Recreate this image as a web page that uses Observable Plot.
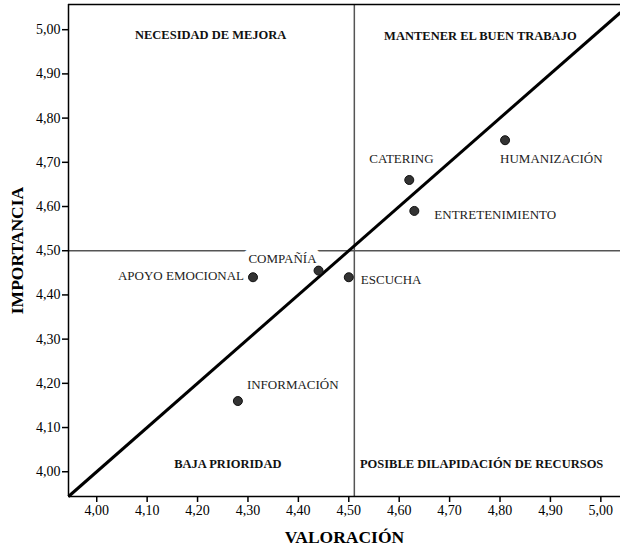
<!DOCTYPE html>
<html><head><meta charset="utf-8">
<script src="https://cdn.jsdelivr.net/npm/d3@7"></script>
<script src="https://cdn.jsdelivr.net/npm/@observablehq/plot@0.6"></script>
<style>body{margin:0;background:#fff}</style>
</head><body><div id="chart"></div>
<script>
const names = ["HUMANIZACIÓN","CATERING","ENTRETENIMIENTO","ESCUCHA","COMPAÑÍA","APOYO EMOCIONAL","INFORMACIÓN"];
const valoracion = [4.81, 4.62, 4.63, 4.50, 4.44, 4.31, 4.28];
const importancia = [4.75, 4.66, 4.59, 4.44, 4.455, 4.44, 4.16];
const xTicks = [4.0,4.1,4.2,4.3,4.4,4.5,4.6,4.7,4.8,4.9,5.0];
const yTicks = [4.0,4.1,4.2,4.3,4.4,4.5,4.6,4.7,4.8,4.9,5.0];
const xDomain = [3.944, 5.039];
const yDomain = [3.944, 5.057];
const refX = 4.511, refY = 4.50;
const quadNames = ["NECESIDAD DE MEJORA","MANTENER EL BUEN TRABAJO","BAJA PRIORIDAD","POSIBLE DILAPIDACIÓN DE RECURSOS"];
const quadX = [4.226, 4.761, 4.260, 4.522];
const quadY = [4.989, 4.986, 4.018, 4.018];

// label placement (style only)
const place = {
  "HUMANIZACIÓN": {dx:-5, dy:19, a:"start", ls:0.4},
  "CATERING": {dx:-40, dy:-21, a:"start", ls:0.4},
  "ENTRETENIMIENTO": {dx:20, dy:4, a:"start", ls:1},
  "ESCUCHA": {dx:12, dy:3, a:"start", ls:0.4},
  "COMPAÑÍA": {dx:-2, dy:-12, a:"end", ls:0.4, halo:true},
  "APOYO EMOCIONAL": {dx:-9, dy:-1, a:"end", ls:0.4},
  "INFORMACIÓN": {dx:9, dy:-16, a:"start", ls:0.4}
};
const quadAnchor = ["middle","middle","middle","start"];
const quadSpacing = [0.8, 0.8, 0.8, 1.4];

const pts = names.map((n,i)=>({name:n, x:valoracion[i], y:importancia[i]}));
const quads = quadNames.map((n,i)=>({name:n, x:quadX[i], y:quadY[i], a:quadAnchor[i], ls:quadSpacing[i]}));
const fmt = d => d.toFixed(2).replace(".", ",");

const labelMarks = pts.map(p => {
  const o = place[p.name];
  return Plot.text([p], {x:"x", y:"y", text:"name", dx:o.dx, dy:o.dy, textAnchor:o.a,
    fontSize:13, fill:"#222", letterSpacing: o.ls + "px",
    stroke: o.halo ? "white" : "none", strokeWidth: o.halo ? 14 : 0});
});
const quadMarks = quads.map(q => Plot.text([q], {x:"x", y:"y", text:"name", fontWeight:"bold",
  fontSize:12.5, fill:"#111", letterSpacing: q.ls + "px", textAnchor:q.a}));

const chart = Plot.plot({
  width: 620, height: 548,
  marginLeft: 68, marginRight: 0, marginTop: 4, marginBottom: 52,
  style: {fontFamily: "'Liberation Serif', 'DejaVu Serif', serif", background: "white", color: "#000"},
  x: {domain: xDomain},
  y: {domain: yDomain},
  marks: [
    Plot.ruleY([refY], {stroke:"#555", strokeWidth:1.5}),
    Plot.ruleX([refX], {stroke:"#555", strokeWidth:1.5}),
    ...labelMarks,
    ...quadMarks,
    Plot.link([{x1:xDomain[0], y1:xDomain[0], x2:xDomain[1], y2:xDomain[1]}], {x1:"x1", y1:"y1", x2:"x2", y2:"y2", stroke:"#000", strokeWidth:3}),
    Plot.dot(pts, {x:"x", y:"y", r:4.5, fill:"#333", stroke:"#111", strokeWidth:1}),
    Plot.ruleY([yDomain[1]], {stroke:"#000", strokeWidth:1.5}),
    Plot.ruleY([yDomain[0]], {stroke:"#000", strokeWidth:1.5}),
    Plot.ruleX([xDomain[0]], {stroke:"#000", strokeWidth:1.5}),
    Plot.axisX({ticks: xTicks, tickFormat: fmt, tickSize: 6, strokeWidth: 1.5, fontSize: 14, tickPadding: 3, label: null}),
    Plot.axisY({ticks: yTicks, tickFormat: fmt, tickSize: 6, strokeWidth: 1.5, fontSize: 14, tickPadding: 2, label: null}),
    Plot.text(["VALORACIÓN"], {frameAnchor:"bottom", dy:41, lineAnchor:"middle", textAnchor:"middle", fontWeight:"bold", fontSize:17.5, fill:"#000"}),
    Plot.text(["IMPORTANCIA"], {frameAnchor:"left", dx:-51, rotate:-90, lineAnchor:"middle", textAnchor:"middle", fontWeight:"bold", fontSize:17.5, fill:"#000"})
  ]
});
document.getElementById("chart").appendChild(chart);
</script>
</body></html>
